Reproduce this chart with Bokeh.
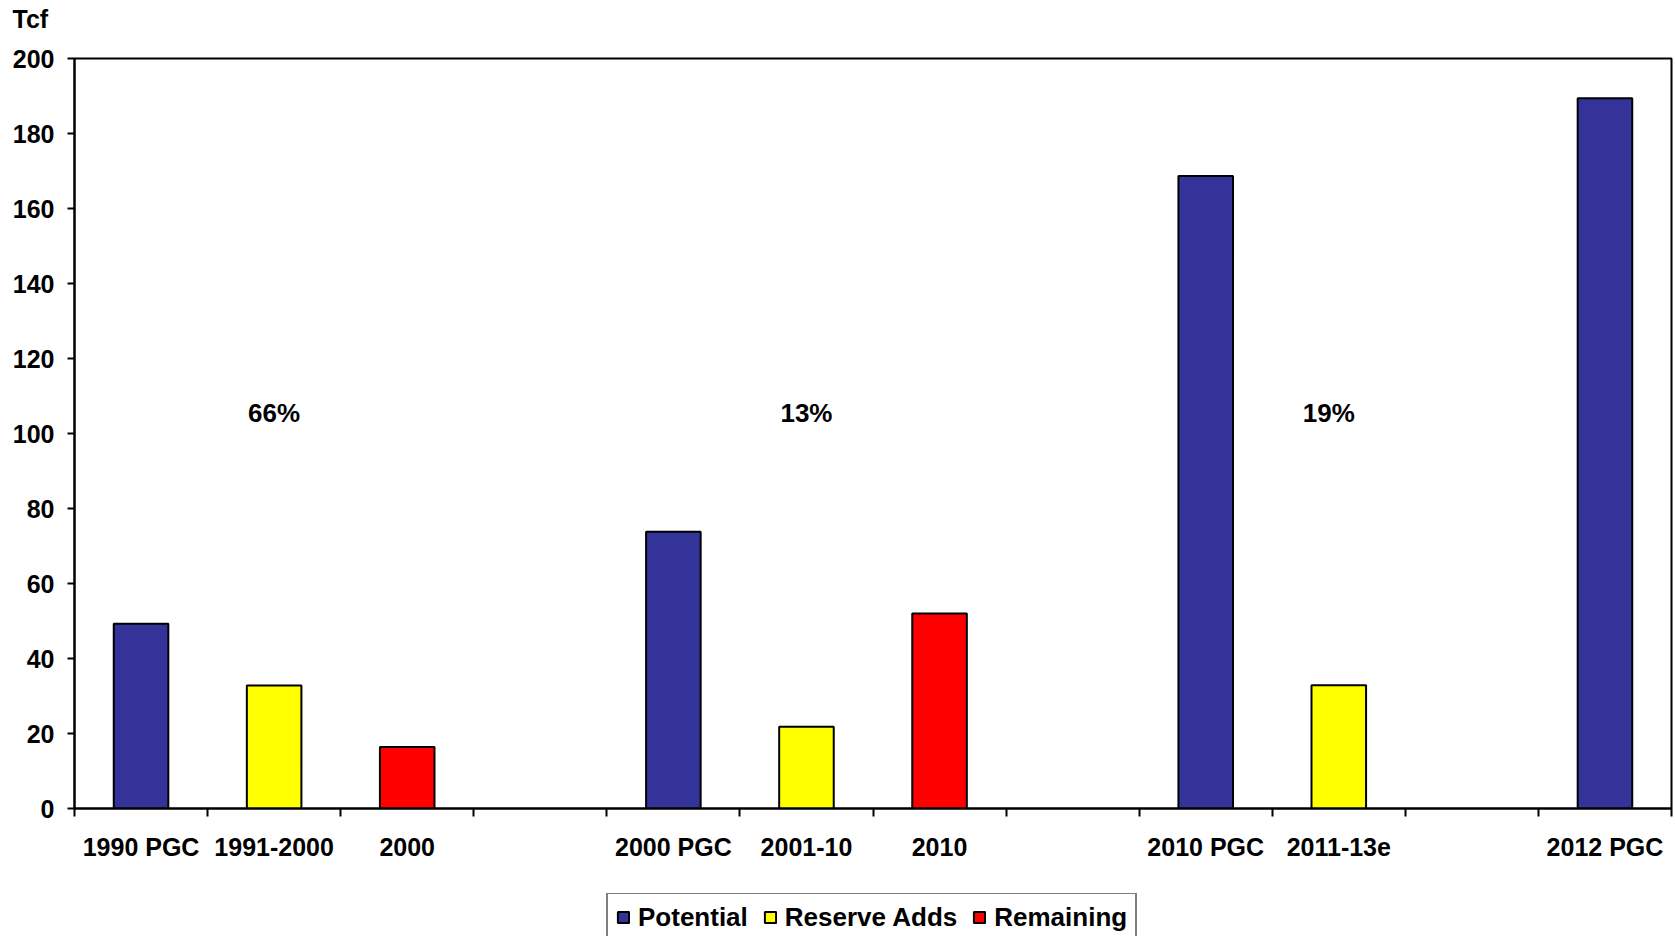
from bokeh.plotting import figure
from bokeh.layouts import column
from bokeh.models import (ColumnDataSource, FixedTicker, Legend, LegendItem, Range1d)
from bokeh.core.properties import value
from bokeh.embed import file_html
from bokeh.resources import INLINE

# Category slots along the x axis (blank slots separate the three periods)
slots = ["1990 PGC", "1991-2000", "2000", "",
         "2000 PGC", "2001-10", "2010", "",
         "2010 PGC", "2011-13e", "", "2012 PGC"]

# Series values, Tcf
potential_cats = ["1990 PGC", "2000 PGC", "2010 PGC", "2012 PGC"]
potential_vals = [49.3, 73.8, 168.7, 189.4]

reserve_cats = ["1991-2000", "2001-10", "2011-13e"]
reserve_vals = [32.8, 21.8, 32.9]

remaining_cats = ["2000", "2010"]
remaining_vals = [16.4, 52.0]

# Share annotations above each reserve-adds slot
share_cats = ["1991-2000", "2001-10", "2011-13e"]
share_text = ["66%", "13%", "19%"]

y_ticks = list(range(0, 201, 20))

FONT = "Liberation Sans"
BLUE, YELLOW, RED = "#333399", "#FFFF00", "#FF0000"
W = 1675
HEAD_H, CHART_H, LEGEND_H = 46, 847, 43
LEFT, RIGHT = 74, 4


def xpos(cats):
    return [slots.index(c) + 0.5 for c in cats]


def strip(height):
    f = figure(width=W, height=height, output_backend="svg", toolbar_location=None,
               x_axis_type=None, y_axis_type=None,
               min_border_left=LEFT, min_border_right=RIGHT,
               min_border_top=0, min_border_bottom=0,
               x_range=Range1d(0, 1), y_range=Range1d(0, 1),
               background_fill_color="white", border_fill_color="white")
    f.grid.visible = False
    f.outline_line_color = None
    return f


# Header strip carrying the unit caption
head = strip(HEAD_H)
head.title.text = "Tcf"
head.title.align = "left"
head.title.vertical_align = "top"
head.title.offset = -62
head.title.standoff = 9
head.title.text_font = FONT
head.title.text_font_style = "bold"
head.title.text_font_size = "25px"
head.title.text_color = "black"

p = figure(width=W, height=CHART_H, output_backend="svg", toolbar_location=None,
           x_range=Range1d(0, len(slots)), y_range=Range1d(0, 200),
           min_border_left=LEFT, min_border_right=RIGHT, min_border_top=12,
           min_border_bottom=85, background_fill_color="white",
           border_fill_color="white")
p.title.text = ""
p.grid.visible = False
p.outline_line_color = "black"
p.outline_line_width = 2

bar_w = 0.41
src_pot = ColumnDataSource(dict(x=xpos(potential_cats), top=potential_vals))
src_res = ColumnDataSource(dict(x=xpos(reserve_cats), top=reserve_vals))
src_rem = ColumnDataSource(dict(x=xpos(remaining_cats), top=remaining_vals))

bar_styles = [(src_pot, BLUE), (src_res, YELLOW), (src_rem, RED)]
for src, color in bar_styles:
    p.vbar(x="x", top="top", width=bar_w, source=src,
           fill_color=color, line_color="black", line_width=2)

# Percentage labels
share_y = 105.6
share_nudge = [0, 0, -10]
src_share = ColumnDataSource(dict(x=xpos(share_cats), y=[share_y] * len(share_cats),
                                  t=share_text, dx=share_nudge))
p.text(x="x", y="y", text="t", x_offset="dx", source=src_share,
       text_font=value(FONT), text_font_style="bold", text_font_size="26px",
       text_align="center", text_baseline="middle", text_color="black")

# Y axis
ya = p.yaxis[0]
ya.ticker = FixedTicker(ticks=y_ticks)
ya.axis_line_width = 2
ya.axis_line_color = "black"
ya.major_tick_line_width = 2
ya.major_tick_out = 7
ya.major_tick_in = 0
ya.minor_tick_line_color = None
ya.major_label_standoff = 13
ya.major_label_text_font = FONT
ya.major_label_text_font_style = "bold"
ya.major_label_text_font_size = "25px"
ya.major_label_text_color = "black"

# X axis: labels at slot centres, tick marks at slot boundaries
xa = p.xaxis[0]
centers = [i + 0.5 for i in range(len(slots))]
xa.ticker = FixedTicker(ticks=centers, minor_ticks=list(range(len(slots) + 1)))
xa.major_label_overrides = {c: s for c, s in zip(centers, slots)}
xa.axis_line_width = 2
xa.axis_line_color = "black"
xa.major_tick_out = 0
xa.major_tick_in = 0
xa.major_tick_line_color = None
xa.minor_tick_out = 8
xa.minor_tick_in = 0
xa.minor_tick_line_width = 2
xa.minor_tick_line_color = "black"
xa.major_label_standoff = 16
xa.major_label_text_font = FONT
xa.major_label_text_font_style = "bold"
xa.major_label_text_font_size = "25px"
xa.major_label_text_color = "black"

# Legend strip underneath the chart
lg = strip(LEGEND_H)
leg_renderers = []
for src, color in bar_styles:
    leg_renderers.append(lg.vbar(x="x", top="top", width=bar_w, source=src,
                                 fill_color=color, line_color="black",
                                 line_width=2, visible=False))

legend = Legend(items=[LegendItem(label="Potential", renderers=[leg_renderers[0]]),
                       LegendItem(label="Reserve Adds", renderers=[leg_renderers[1]]),
                       LegendItem(label="Remaining", renderers=[leg_renderers[2]])],
                orientation="horizontal", location=(532, -6.5),
                glyph_width=14, glyph_height=14, label_standoff=8, spacing=15,
                padding=8, margin=0, label_height=28,
                label_text_font=FONT, label_text_font_style="bold",
                label_text_font_size="26px", label_text_color="black",
                border_line_color="black", border_line_width=2,
                background_fill_color="white", background_fill_alpha=1,
                inactive_fill_alpha=0)
lg.add_layout(legend, "center")

layout = column(head, p, lg, spacing=0)
open("out.html", "w").write(file_html(layout, INLINE))
